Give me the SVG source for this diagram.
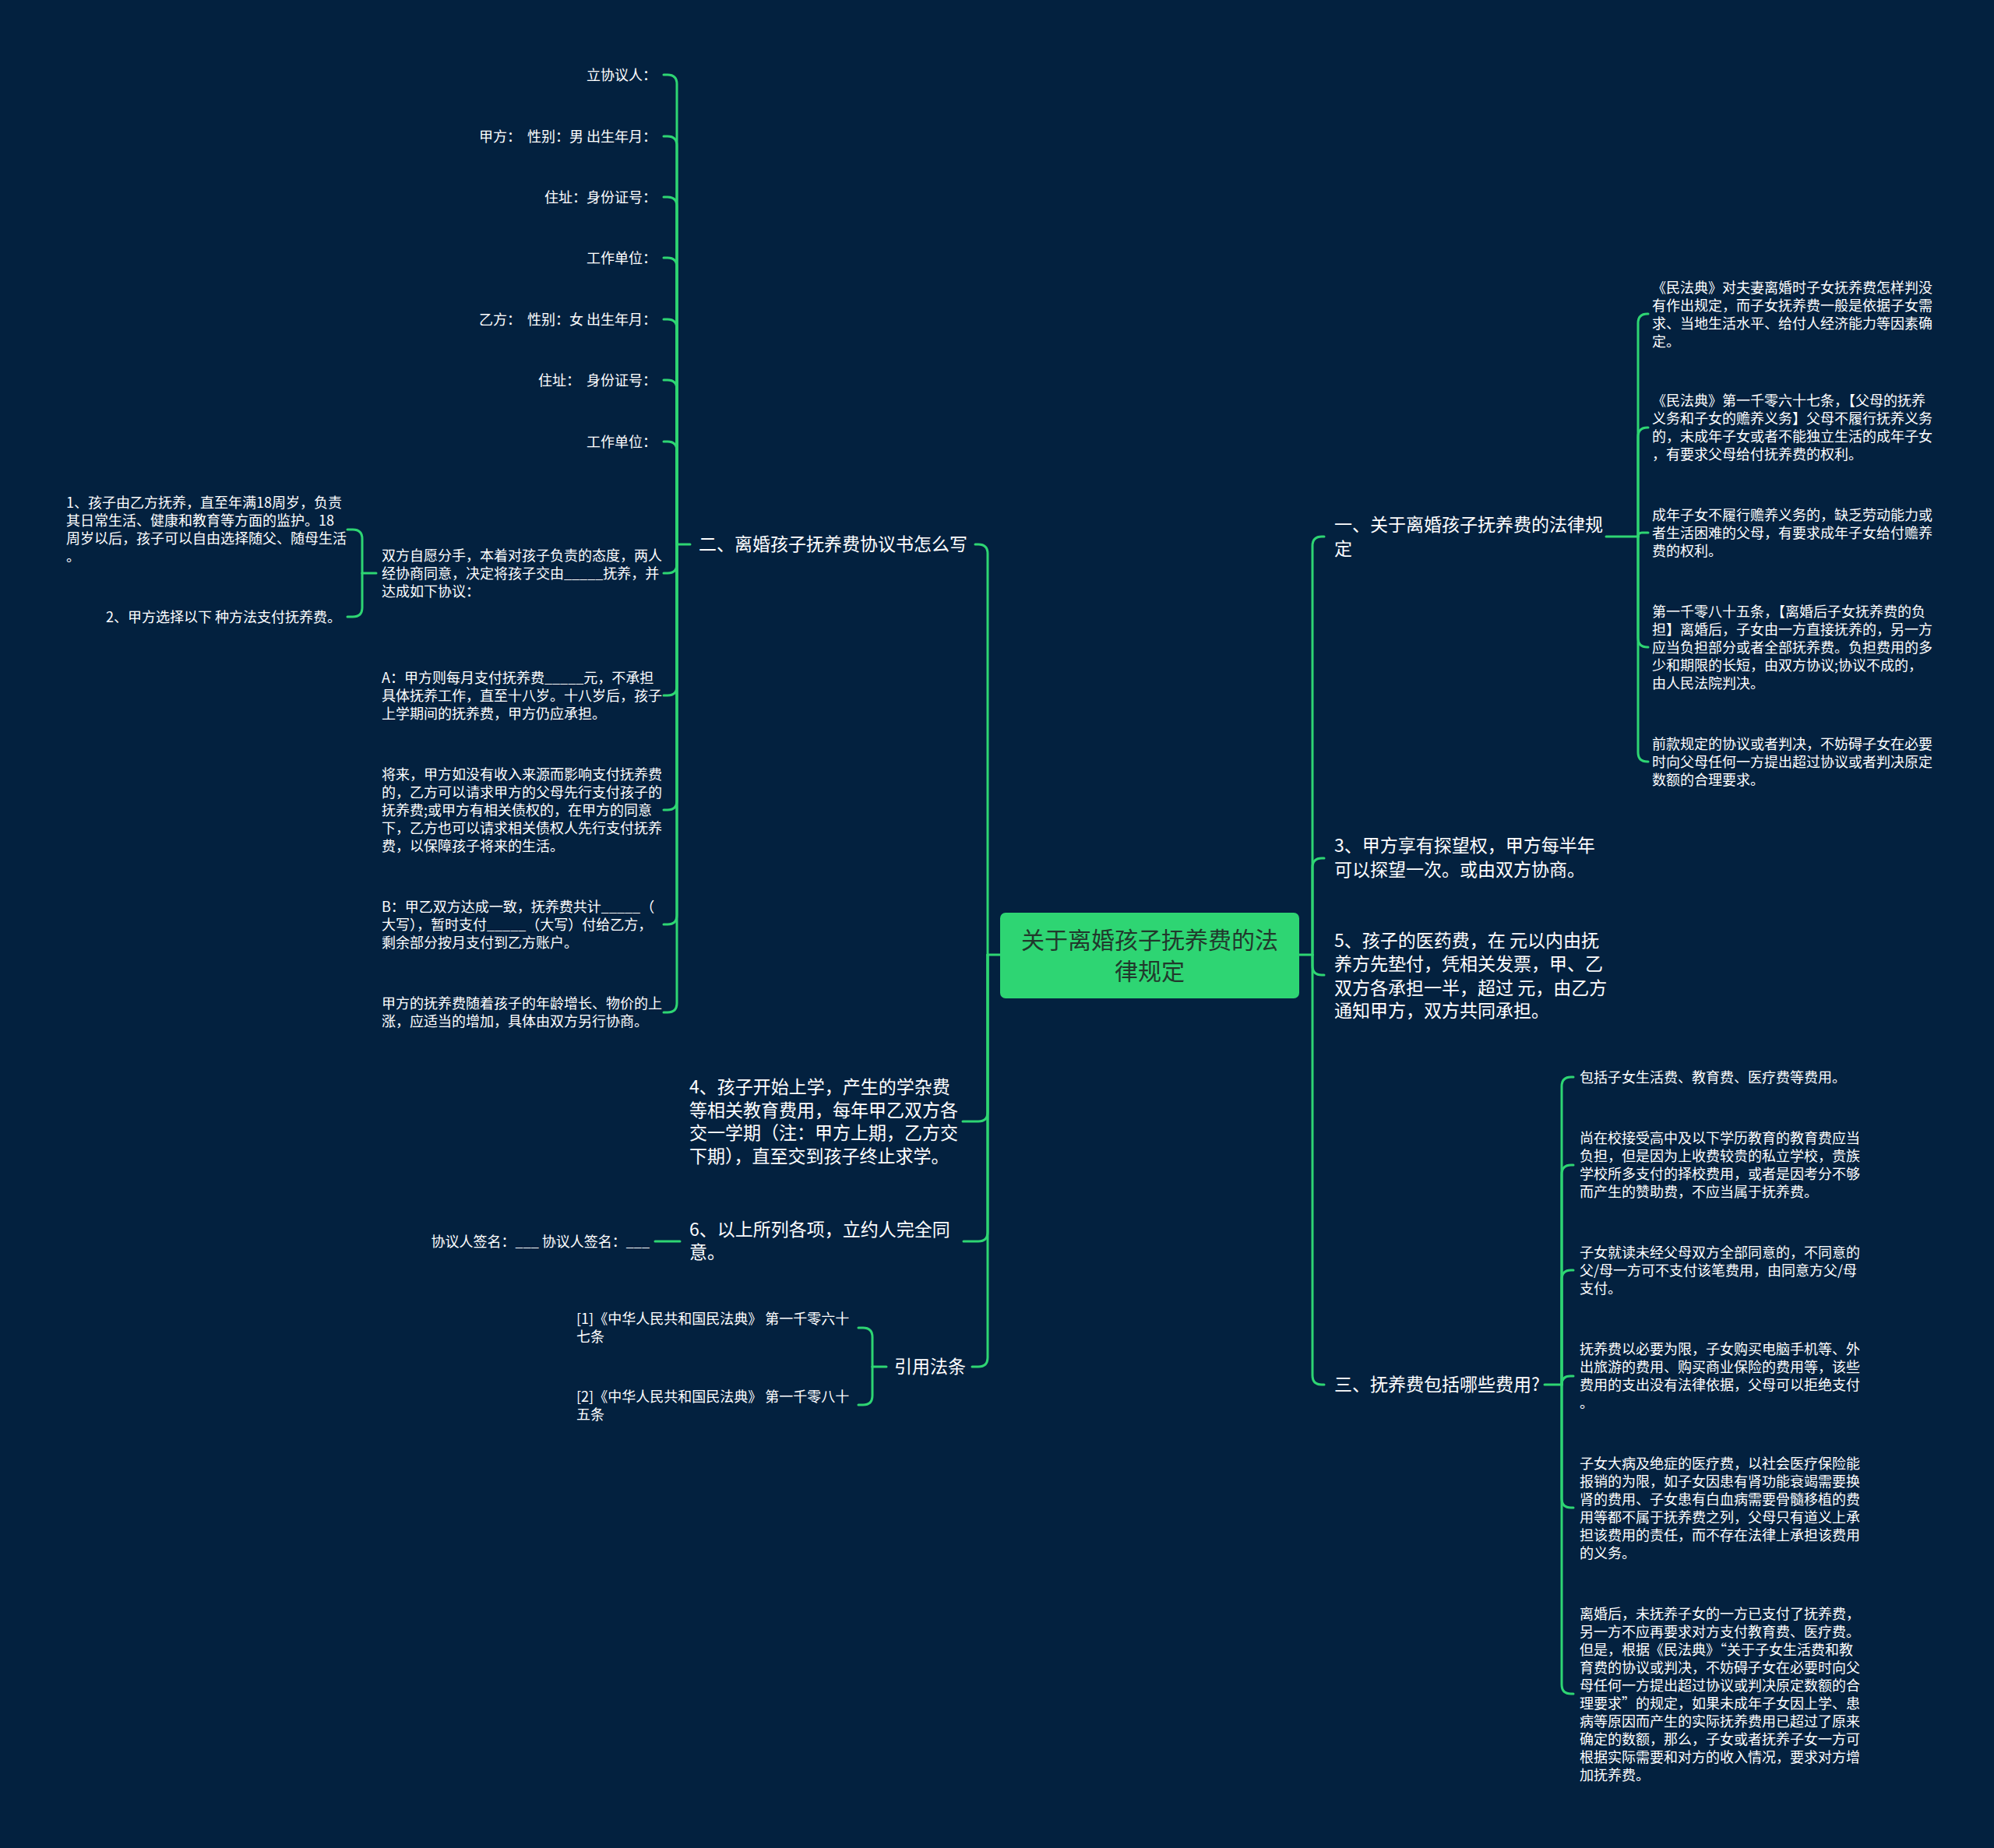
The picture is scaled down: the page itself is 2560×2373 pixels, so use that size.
<svg xmlns="http://www.w3.org/2000/svg" width="2560" height="2373" viewBox="0 0 2560 2373">
<style>
text{font-family:"Noto Sans CJK SC","Noto Sans",sans-serif;fill:#ffffff}
.s{font-size:18px}
.m{font-size:23px}
.e{text-anchor:end}
.c{font-size:30px;fill:#21392c;text-anchor:middle}
.ln{fill:none;stroke:#2ed573;stroke-width:3;stroke-linecap:round;stroke-linejoin:round}
</style>
<rect x="0" y="0" width="2560" height="2373" fill="#03213f"/>

<g id="connectors" class="ln">
  <path d="M1284,1226 L1268,1226"/>
  <path d="M1668,1226 L1685,1226"/>
  <path d="M1268,1226 L1268,711 Q1268,699 1256,699 L1252,699"/>
  <path d="M1268,1226 L1268,1428 Q1268,1440 1256,1440 L1236,1440"/>
  <path d="M1268,1226 L1268,1582 Q1268,1594 1256,1594 L1237,1594"/>
  <path d="M1268,1226 L1268,1743 Q1268,1755 1256,1755 L1248,1755"/>
  <path d="M1685,1226 L1685,701 Q1685,689 1697,689 L1700,689"/>
  <path d="M1685,1226 L1685,1114 Q1685,1102 1697,1102 L1700,1102"/>
  <path d="M1685,1226 L1685,1240 Q1685,1252 1697,1252 L1700,1252"/>
  <path d="M1685,1226 L1685,1766 Q1685,1778 1697,1778 L1700,1778"/>
  <path d="M886,699 L869,699"/>
  <path d="M869,699 L869,108 Q869,96 857,96 L852,96"/>
  <path d="M869,699 L869,187 Q869,175 857,175 L852,175"/>
  <path d="M869,699 L869,265 Q869,253 857,253 L852,253"/>
  <path d="M869,699 L869,343 Q869,331 857,331 L852,331"/>
  <path d="M869,699 L869,422 Q869,410 857,410 L852,410"/>
  <path d="M869,699 L869,500 Q869,488 857,488 L852,488"/>
  <path d="M869,699 L869,579 Q869,567 857,567 L852,567"/>
  <path d="M869,699 L869,724 Q869,736 857,736 L852,736"/>
  <path d="M869,699 L869,881 Q869,893 857,893 L852,893"/>
  <path d="M869,699 L869,1028 Q869,1040 857,1040 L852,1040"/>
  <path d="M869,699 L869,1175 Q869,1187 857,1187 L852,1187"/>
  <path d="M869,699 L869,1288 Q869,1300 857,1300 L852,1300"/>
  <path d="M483,736 L465,736"/>
  <path d="M465,736 L465,692 Q465,680 453,680 L446,680"/>
  <path d="M465,736 L465,780 Q465,792 453,792 L446,792"/>
  <path d="M873,1594 L841,1594"/>
  <path d="M1138,1755 L1120,1755"/>
  <path d="M1120,1755 L1120,1717 Q1120,1705 1108,1705 L1102,1705"/>
  <path d="M1120,1755 L1120,1792 Q1120,1804 1108,1804 L1102,1804"/>
  <path d="M2062,689 L2103,689"/>
  <path d="M2103,689 L2103,415 Q2103,403 2115,403 L2116,403"/>
  <path d="M2103,689 L2103,561 Q2103,549 2115,549 L2116,549"/>
  <path d="M2103,689 Q2103,684 2108,684 L2116,684"/>
  <path d="M2103,689 L2103,819 Q2103,831 2115,831 L2116,831"/>
  <path d="M2103,689 L2103,966 Q2103,978 2115,978 L2116,978"/>
  <path d="M1983,1778 L2005,1778"/>
  <path d="M2005,1778 L2005,1395 Q2005,1383 2017,1383 L2020,1383"/>
  <path d="M2005,1778 L2005,1508 Q2005,1496 2017,1496 L2020,1496"/>
  <path d="M2005,1778 L2005,1643 Q2005,1631 2017,1631 L2020,1631"/>
  <path d="M2005,1778 Q2005,1767 2016,1767 L2020,1767"/>
  <path d="M2005,1778 L2005,1924 Q2005,1936 2017,1936 L2020,1936"/>
  <path d="M2005,1778 L2005,2163 Q2005,2175 2017,2175 L2020,2175"/>
</g>

<g id="center">
  <rect x="1284" y="1172" width="384" height="110" rx="7" fill="#2ed573"/>
  <text class="c"><tspan x="1476" y="1218">关于离婚孩子抚养费的法</tspan><tspan x="1476" y="1258">律规定</tspan></text>
</g>

<g id="n2">
  <text class="m" x="897" y="707">二、离婚孩子抚养费协议书怎么写</text>
</g>
<g id="n2-1"><text class="s e" x="843" y="102.5" xml:space="preserve">立协议人：</text></g>
<g id="n2-2"><text class="s e" x="843" y="181.5" xml:space="preserve">甲方：  性别：男 出生年月：</text></g>
<g id="n2-3"><text class="s e" x="843" y="259.5" xml:space="preserve">住址：身份证号：</text></g>
<g id="n2-4"><text class="s e" x="843" y="337.5" xml:space="preserve">工作单位：</text></g>
<g id="n2-5"><text class="s e" x="843" y="416.5" xml:space="preserve">乙方：  性别：女 出生年月：</text></g>
<g id="n2-6"><text class="s e" x="843" y="494.5" xml:space="preserve">住址：  身份证号：</text></g>
<g id="n2-7"><text class="s e" x="843" y="573.5" xml:space="preserve">工作单位：</text></g>
<g id="n2-8">
  <text class="s"><tspan x="490" y="719.5">双方自愿分手，本着对孩子负责的态度，两人</tspan><tspan x="490" y="742.5">经协商同意，决定将孩子交由_____抚养，并</tspan><tspan x="490" y="765.5">达成如下协议：</tspan></text>
</g>
<g id="n2-8-1">
  <text class="s"><tspan x="85" y="651.5">1、孩子由乙方抚养，直至年满18周岁，负责</tspan><tspan x="85" y="674.5">其日常生活、健康和教育等方面的监护。18</tspan><tspan x="85" y="697.5">周岁以后，孩子可以自由选择随父、随母生活</tspan><tspan x="85" y="720.5">。</tspan></text>
</g>
<g id="n2-8-2"><text class="s e" x="438" y="798.5" xml:space="preserve">2、甲方选择以下 种方法支付抚养费。</text></g>
<g id="n2-9">
  <text class="s"><tspan x="490" y="876.5">A：甲方则每月支付抚养费_____元，不承担</tspan><tspan x="490" y="899.5">具体抚养工作，直至十八岁。十八岁后，孩子</tspan><tspan x="490" y="922.5">上学期间的抚养费，甲方仍应承担。</tspan></text>
</g>
<g id="n2-10">
  <text class="s"><tspan x="490" y="1000.5">将来，甲方如没有收入来源而影响支付抚养费</tspan><tspan x="490" y="1023.5">的，乙方可以请求甲方的父母先行支付孩子的</tspan><tspan x="490" y="1046.5">抚养费;或甲方有相关债权的，在甲方的同意</tspan><tspan x="490" y="1069.5">下，乙方也可以请求相关债权人先行支付抚养</tspan><tspan x="490" y="1092.5">费，以保障孩子将来的生活。</tspan></text>
</g>
<g id="n2-11">
  <text class="s"><tspan x="490" y="1170.5">B：甲乙双方达成一致，抚养费共计_____（</tspan><tspan x="490" y="1193.5">大写），暂时支付_____（大写）付给乙方，</tspan><tspan x="490" y="1216.5">剩余部分按月支付到乙方账户。</tspan></text>
</g>
<g id="n2-12">
  <text class="s"><tspan x="490" y="1294.5">甲方的抚养费随着孩子的年龄增长、物价的上</tspan><tspan x="490" y="1317.5">涨，应适当的增加，具体由双方另行协商。</tspan></text>
</g>

<g id="n4">
  <text class="m"><tspan x="885" y="1404">4、孩子开始上学，产生的学杂费</tspan><tspan x="885" y="1433.5">等相关教育费用，每年甲乙双方各</tspan><tspan x="885" y="1463">交一学期（注：甲方上期，乙方交</tspan><tspan x="885" y="1492.5">下期），直至交到孩子终止求学。</tspan></text>
</g>
<g id="n6">
  <text class="m"><tspan x="885" y="1587">6、以上所列各项，立约人完全同</tspan><tspan x="885" y="1616">意。</tspan></text>
</g>
<g id="n6-1"><text class="s e" x="834" y="1600.5" xml:space="preserve">协议人签名：___ 协议人签名：___</text></g>

<g id="nref"><text class="m" x="1148" y="1763">引用法条</text></g>
<g id="nref-1">
  <text class="s" xml:space="preserve"><tspan x="740" y="1699.5">[1]《中华人民共和国民法典》 第一千零六十</tspan><tspan x="740" y="1722.5">七条</tspan></text>
</g>
<g id="nref-2">
  <text class="s" xml:space="preserve"><tspan x="740" y="1799.5">[2]《中华人民共和国民法典》 第一千零八十</tspan><tspan x="740" y="1822.5">五条</tspan></text>
</g>

<g id="n1">
  <text class="m"><tspan x="1713" y="682">一、关于离婚孩子抚养费的法律规</tspan><tspan x="1713" y="713">定</tspan></text>
</g>
<g id="n1-1">
  <text class="s"><tspan x="2121" y="375.5">《民法典》对夫妻离婚时子女抚养费怎样判没</tspan><tspan x="2121" y="398.5">有作出规定，而子女抚养费一般是依据子女需</tspan><tspan x="2121" y="421.5">求、当地生活水平、给付人经济能力等因素确</tspan><tspan x="2121" y="444.5">定。</tspan></text>
</g>
<g id="n1-2">
  <text class="s"><tspan x="2121" y="520.5">《民法典》第一千零六十七条，【父母的抚养</tspan><tspan x="2121" y="543.5">义务和子女的赡养义务】父母不履行抚养义务</tspan><tspan x="2121" y="566.5">的，未成年子女或者不能独立生活的成年子女</tspan><tspan x="2121" y="589.5">，有要求父母给付抚养费的权利。</tspan></text>
</g>
<g id="n1-3">
  <text class="s"><tspan x="2121" y="667.5">成年子女不履行赡养义务的，缺乏劳动能力或</tspan><tspan x="2121" y="690.5">者生活困难的父母，有要求成年子女给付赡养</tspan><tspan x="2121" y="713.5">费的权利。</tspan></text>
</g>
<g id="n1-4">
  <text class="s"><tspan x="2121" y="791.5">第一千零八十五条，【离婚后子女抚养费的负</tspan><tspan x="2121" y="814.5">担】离婚后，子女由一方直接抚养的，另一方</tspan><tspan x="2121" y="837.5">应当负担部分或者全部抚养费。负担费用的多</tspan><tspan x="2121" y="860.5">少和期限的长短，由双方协议;协议不成的，</tspan><tspan x="2121" y="883.5">由人民法院判决。</tspan></text>
</g>
<g id="n1-5">
  <text class="s"><tspan x="2121" y="961.5">前款规定的协议或者判决，不妨碍子女在必要</tspan><tspan x="2121" y="984.5">时向父母任何一方提出超过协议或者判决原定</tspan><tspan x="2121" y="1007.5">数额的合理要求。</tspan></text>
</g>

<g id="n3">
  <text class="m"><tspan x="1713" y="1094">3、甲方享有探望权，甲方每半年</tspan><tspan x="1713" y="1125">可以探望一次。或由双方协商。</tspan></text>
</g>
<g id="n5">
  <text class="m" xml:space="preserve"><tspan x="1713" y="1216">5、孩子的医药费，在 元以内由抚</tspan><tspan x="1713" y="1246">养方先垫付，凭相关发票，甲、乙</tspan><tspan x="1713" y="1277">双方各承担一半，超过 元，由乙方</tspan><tspan x="1713" y="1306">通知甲方，双方共同承担。</tspan></text>
</g>

<g id="n3b"><text class="m" x="1713" y="1786">三、抚养费包括哪些费用?</text></g>
<g id="n3b-1"><text class="s" x="2028" y="1389.5">包括子女生活费、教育费、医疗费等费用。</text></g>
<g id="n3b-2">
  <text class="s"><tspan x="2028" y="1467.5">尚在校接受高中及以下学历教育的教育费应当</tspan><tspan x="2028" y="1490.5">负担，但是因为上收费较贵的私立学校，贵族</tspan><tspan x="2028" y="1513.5">学校所多支付的择校费用，或者是因考分不够</tspan><tspan x="2028" y="1536.5">而产生的赞助费，不应当属于抚养费。</tspan></text>
</g>
<g id="n3b-3">
  <text class="s"><tspan x="2028" y="1614.5">子女就读未经父母双方全部同意的，不同意的</tspan><tspan x="2028" y="1637.5">父/母一方可不支付该笔费用，由同意方父/母</tspan><tspan x="2028" y="1660.5">支付。</tspan></text>
</g>
<g id="n3b-4">
  <text class="s"><tspan x="2028" y="1738.5">抚养费以必要为限，子女购买电脑手机等、外</tspan><tspan x="2028" y="1761.5">出旅游的费用、购买商业保险的费用等，该些</tspan><tspan x="2028" y="1784.5">费用的支出没有法律依据，父母可以拒绝支付</tspan><tspan x="2028" y="1807.5">。</tspan></text>
</g>
<g id="n3b-5">
  <text class="s"><tspan x="2028" y="1885.5">子女大病及绝症的医疗费，以社会医疗保险能</tspan><tspan x="2028" y="1908.5">报销的为限，如子女因患有肾功能衰竭需要换</tspan><tspan x="2028" y="1931.5">肾的费用、子女患有白血病需要骨髓移植的费</tspan><tspan x="2028" y="1954.5">用等都不属于抚养费之列，父母只有道义上承</tspan><tspan x="2028" y="1977.5">担该费用的责任，而不存在法律上承担该费用</tspan><tspan x="2028" y="2000.5">的义务。</tspan></text>
</g>
<g id="n3b-6">
  <text class="s"><tspan x="2028" y="2078.5">离婚后，未抚养子女的一方已支付了抚养费，</tspan><tspan x="2028" y="2101.5">另一方不应再要求对方支付教育费、医疗费。</tspan><tspan x="2028" y="2124.5">但是，根据《民法典》“关于子女生活费和教</tspan><tspan x="2028" y="2147.5">育费的协议或判决，不妨碍子女在必要时向父</tspan><tspan x="2028" y="2170.5">母任何一方提出超过协议或判决原定数额的合</tspan><tspan x="2028" y="2193.5">理要求”的规定，如果未成年子女因上学、患</tspan><tspan x="2028" y="2216.5">病等原因而产生的实际抚养费用已超过了原来</tspan><tspan x="2028" y="2239.5">确定的数额，那么，子女或者抚养子女一方可</tspan><tspan x="2028" y="2262.5">根据实际需要和对方的收入情况，要求对方增</tspan><tspan x="2028" y="2285.5">加抚养费。</tspan></text>
</g>
</svg>
